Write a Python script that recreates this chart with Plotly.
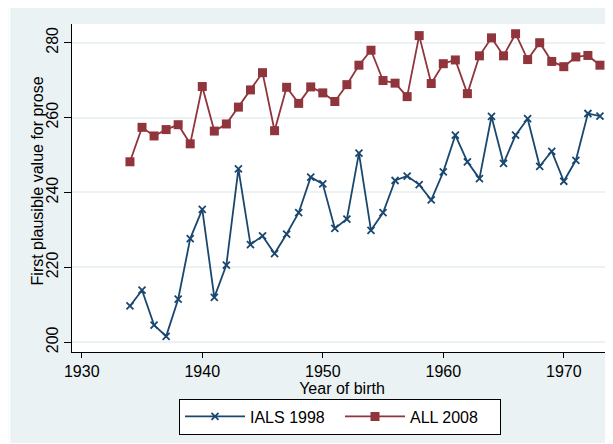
import plotly.graph_objects as go

years = list(range(1934, 1974))
ials_1998 = [209.7, 213.9, 204.6, 201.6, 211.5, 227.7, 235.5, 212.0, 220.6, 246.3,
             226.1, 228.4, 223.7, 228.9, 234.6, 244.1, 242.3, 230.4, 232.9, 250.5,
             229.9, 234.6, 243.2, 244.4, 242.1, 238.0, 245.5, 255.3, 248.2, 243.7,
             260.3, 247.8, 255.3, 259.7, 247.0, 251.0, 243.0, 248.6, 261.1, 260.4]
all_2008 = [248.2, 257.4, 255.1, 256.8, 258.1, 253.0, 268.3, 256.4, 258.3, 262.8,
            267.4, 272.0, 256.5, 268.1, 263.8, 268.2, 266.6, 264.3, 268.8, 274.0,
            278.0, 269.9, 269.2, 265.6, 281.9, 269.1, 274.4, 275.4, 266.4, 276.5,
            281.3, 276.5, 282.4, 275.5, 280.0, 275.0, 273.6, 276.2, 276.6, 274.0]
x_ticks = [1930, 1940, 1950, 1960, 1970]
y_ticks = [200, 220, 240, 260, 280]

BG = "#EAF2F3"
NAVY = "#1A476F"
MAROON = "#90353B"
FONT = "Liberation Sans"
FS = 16

fig = go.Figure()
fig.add_trace(go.Scatter(
    x=years, y=ials_1998, name="IALS 1998", mode="lines+markers",
    line=dict(color=NAVY, width=1.8),
    marker=dict(symbol="x-thin", size=7, line=dict(color=NAVY, width=1.8)),
))
fig.add_trace(go.Scatter(
    x=years, y=all_2008, name="ALL 2008", mode="lines+markers",
    line=dict(color=MAROON, width=1.8),
    marker=dict(symbol="square", size=9, color=MAROON),
))

# page body has an 8px margin; figure occupies the Stata graph region
W, H = 605, 435
L, R, T, B = 63.7, 1.3, 16, 91.3
pw, ph = W - L - R, H - T - B

def px_x(p):
    return (p - L) / pw

def px_y(p):
    return (H - B - p) / ph

# thin white strip on the left of the graph region
fig.add_shape(type="rect", xref="paper", yref="paper",
              x0=px_x(0), x1=px_x(2), y0=px_y(H), y1=px_y(0),
              fillcolor="white", line=dict(width=0), layer="below")

# y-axis title placed as a rotated annotation
fig.add_annotation(text="First plausible value for prose", textangle=-90,
                   xref="paper", yref="paper", x=px_x(29), y=px_y(173),
                   xanchor="center", yanchor="middle", showarrow=False,
                   font=dict(family=FONT, size=FS, color="black"))

fig.update_layout(
    width=W, height=H,
    margin=dict(l=L, r=R, t=T, b=B, pad=0, autoexpand=False),
    paper_bgcolor=BG, plot_bgcolor="white",
    font=dict(family=FONT, size=FS, color="black"),
    showlegend=True,
    legend=dict(orientation="h", xref="container", yref="container",
                x=332 / W, y=(H - 408.5) / H, xanchor="center", yanchor="middle",
                bgcolor="white", bordercolor="black", borderwidth=1,
                font=dict(family=FONT, size=FS, color="black"),
                itemwidth=60, entrywidth=85, traceorder="normal"),
)
fig.update_xaxes(
    range=[1929.19, 1974.0], tickvals=x_ticks, showgrid=False, zeroline=False,
    showline=True, linecolor="black", linewidth=1.2, mirror=False,
    ticks="outside", ticklen=5, tickcolor="black", tickwidth=1,
    title=dict(text="Year of birth", standoff=0, font=dict(size=FS)),
    automargin=False, tickfont=dict(size=FS),
)
fig.update_yaxes(
    range=[197.4, 285.0], tickvals=y_ticks, showgrid=True, gridcolor=BG, gridwidth=1.5,
    zeroline=False, showline=True, linecolor="black", linewidth=1.2,
    ticks="outside", ticklen=7, tickcolor="black", tickwidth=1, tickangle=-90,
    ticklabelstandoff=0,
    automargin=False, tickfont=dict(size=FS),
)

fig.write_html("out.html")
